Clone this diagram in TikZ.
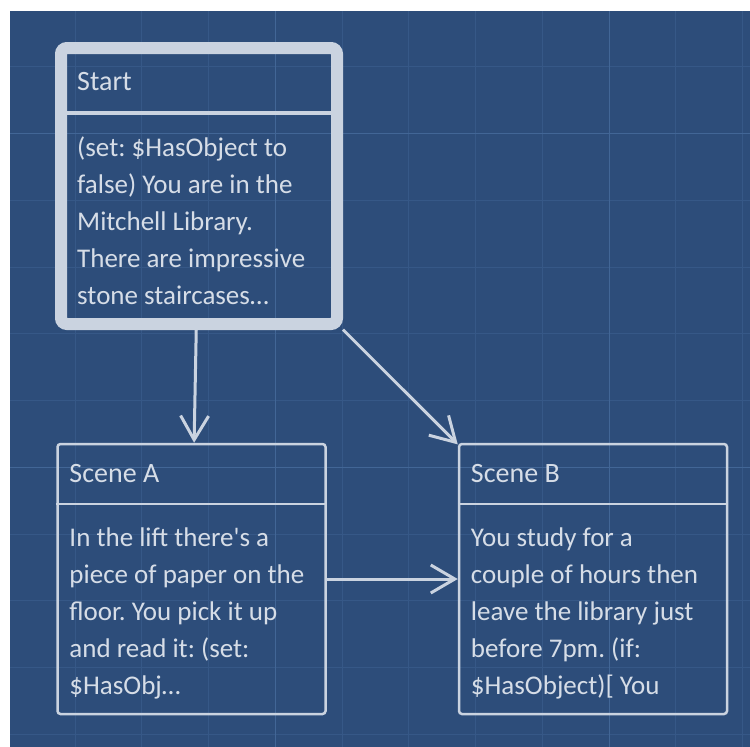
\documentclass[tikz,border=0pt]{standalone}
\usepackage{fontspec}
\setmainfont{Carlito}
\usetikzlibrary{arrows.meta,positioning}
\frenchspacing

\definecolor{mapbg}{RGB}{45,77,122}
\definecolor{gridminor}{RGB}{54,88,135}
\definecolor{gridmajor}{RGB}{66,102,150}
\definecolor{boxline}{RGB}{202,211,224}
\definecolor{boxtext}{RGB}{214,221,231}

\begin{document}
\begin{tikzpicture}[x=1pt,y=-1pt,>={Straight Barb[length=24pt,width=28pt]},
  passage/.style={draw=boxline,line width=2.5pt,rounded corners=3pt,
    minimum width=268pt,minimum height=270pt,inner sep=0pt},
  selected/.style={passage,line width=12pt,rounded corners=6pt,
    minimum width=276pt,minimum height=276pt},
  title/.style={anchor=base west,inner sep=0pt,text=boxtext,
    font=\fontsize{28}{34}\selectfont},
  excerpt/.style={anchor=base west,inner sep=0pt,text=boxtext,align=left,
    font=\fontsize{27}{37}\selectfont},
  link/.style={->,draw=boxline,line width=3pt}]

% story map background with grid
  \useasboundingbox (0,0) rectangle (750,747);
  \fill[mapbg] (10,11) rectangle (750,747);
  \foreach \i in {1,...,11}
    \draw[gridminor,line width=1pt] ({8.25+66.75*\i},11) -- ({8.25+66.75*\i},747);
  \foreach \j in {1,...,11}
    \draw[gridminor,line width=1pt] (10,{66.75*\j}) -- (750,{66.75*\j});
  \foreach \i in {4,9}
    \draw[gridmajor,line width=1pt] ({8.25+66.75*\i},11) -- ({8.25+66.75*\i},747);
  \foreach \j in {2,7}
    \draw[gridmajor,line width=1pt] (10,{66.75*\j}) -- (750,{66.75*\j});

% define the passages
  \node[selected] (start)  at (199,186)  {};
  \node[passage]  (sceneA) at (191.5,579) {};
  \node[passage]  (sceneB) [right of=sceneA, node distance=401.5pt] {};

% title bars
  \draw[boxline,line width=4pt] ([yshift=-71pt]start.north west) -- ([yshift=-71pt]start.north east);
  \draw[boxline,line width=2.5pt] ([yshift=-61pt]sceneA.north west) -- ([yshift=-61pt]sceneA.north east);
  \draw[boxline,line width=2.5pt] ([yshift=-61pt]sceneB.north west) -- ([yshift=-61pt]sceneB.north east);

% passage texts (base = last line)
  \node[title] (startTitle) at ([xshift=22pt,yshift=-48pt]start.north west) {Start};
  \node[excerpt] (startText) at ([xshift=22pt,yshift=-262pt]start.north west)
    {(set: \$HasObject to\\ false) You are in the\\ Mitchell Library.\\ There are impressive\\ stone staircases…};

  \node[title] (sceneATitle) at ([xshift=13pt,yshift=-40pt]sceneA.north west) {Scene A};
  \node[excerpt] (sceneAText) at ([xshift=13pt,yshift=-252pt]sceneA.north west)
    {In the lift there\textquotesingle s a\\ piece of paper on the\\ floor. You pick it up\\ and read it: (set:\\ \$HasObj…};

  \node[title] (sceneBTitle) at ([xshift=13pt,yshift=-40pt]sceneB.north west) {Scene B};
  \node[excerpt] (sceneBText) at ([xshift=13pt,yshift=-252pt]sceneB.north west)
    {You study for a\\ couple of hours then\\ leave the library just\\ before 7pm. (if:\\ \$HasObject)[ You};

% define the links
  \draw[link] (start) -- (sceneA);
  \draw[link] (start) -- (sceneB);
  \draw[link] (sceneA) -- (sceneB);

\end{tikzpicture}
\end{document}
